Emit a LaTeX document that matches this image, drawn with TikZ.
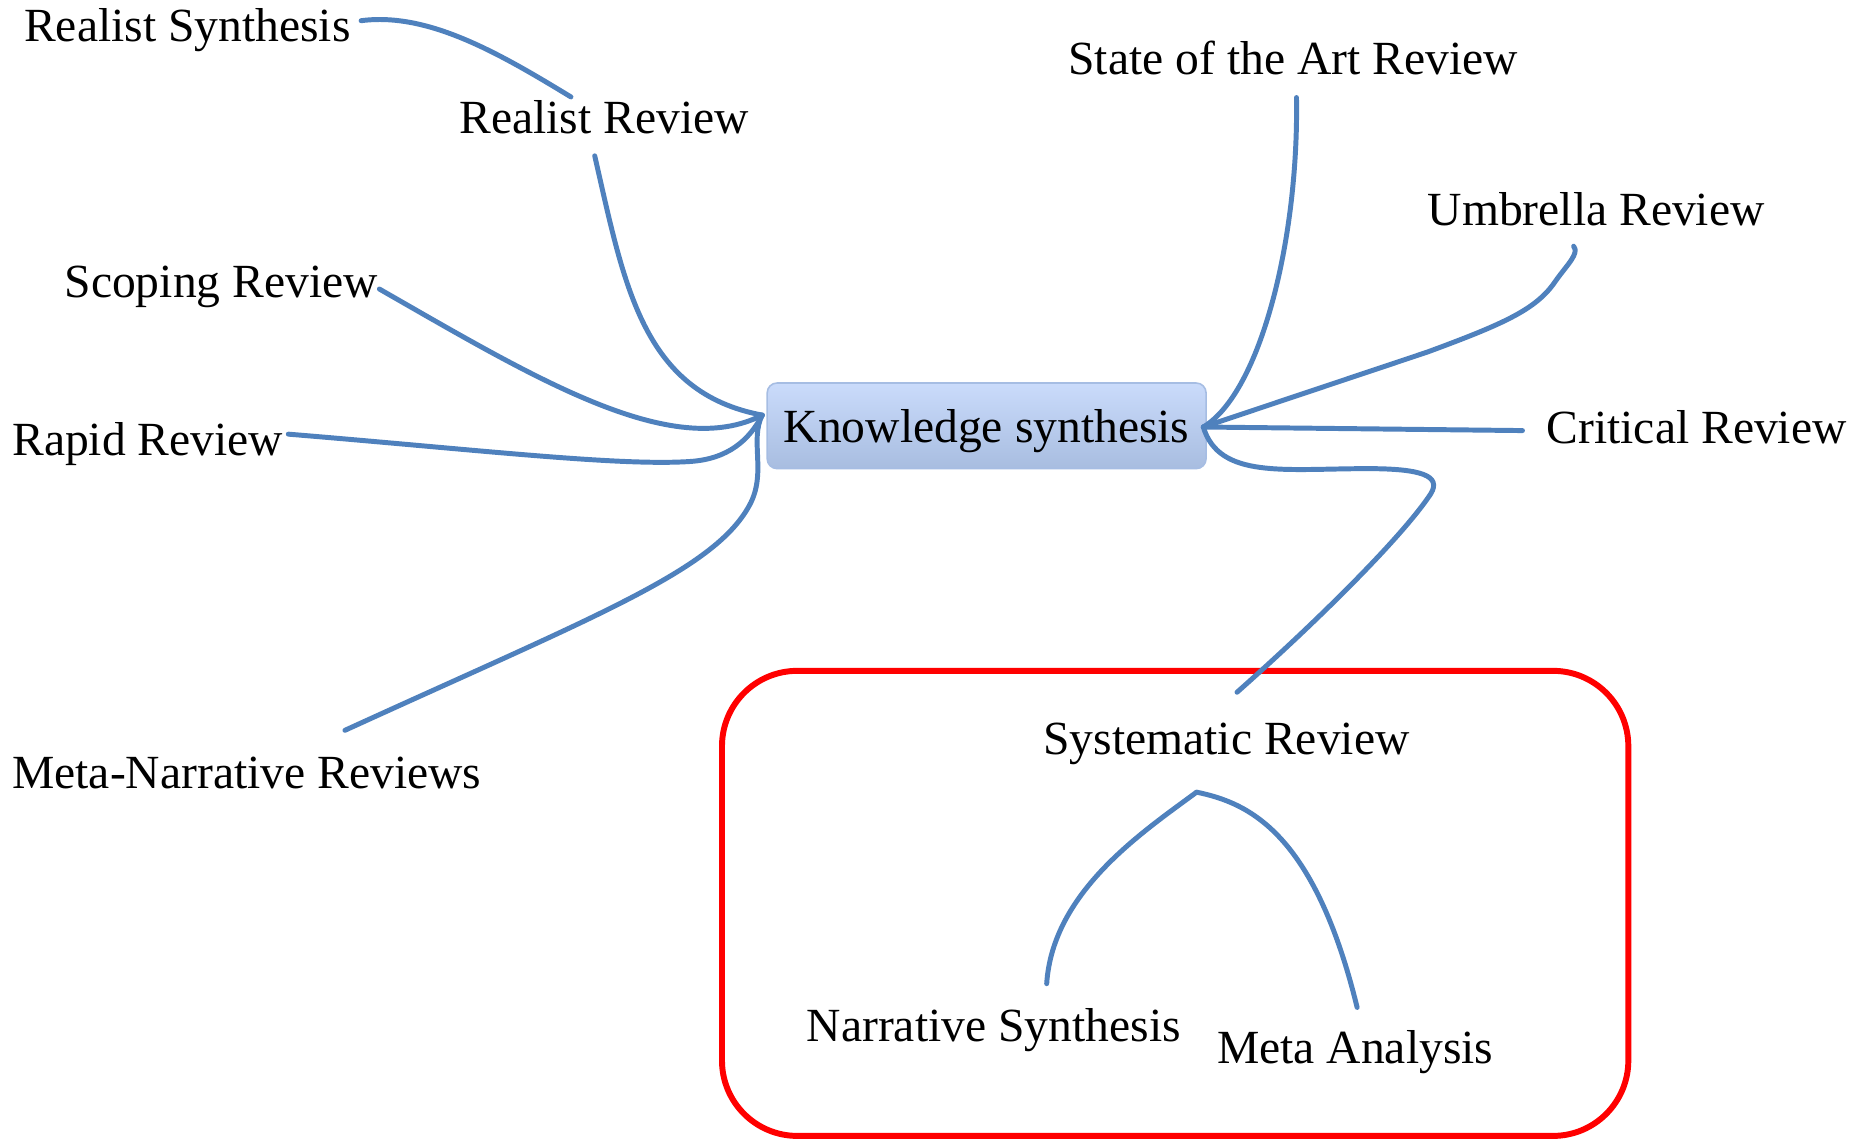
\documentclass[tikz,border=0pt]{standalone}
\usepackage{fontspec}
\setmainfont{Liberation Serif}
\usetikzlibrary{calc}
\definecolor{linkblue}{RGB}{79,129,189}
\definecolor{boxtop}{RGB}{202,219,251}
\definecolor{boxbottom}{RGB}{168,189,224}
\definecolor{boxline}{RGB}{166,189,227}
\begin{document}
\begin{tikzpicture}[x=0.6pt,y=-0.6pt,
  label/.style={inner sep=0pt,anchor=base west,font=\fontsize{24}{29}\selectfont},
  ksbox/.style={draw=boxline,line width=0.8pt,top color=boxtop,bottom color=boxbottom,
    rounded corners=5pt,minimum width=221.4pt,minimum height=43.2pt,inner sep=0pt,
    text depth=0pt,font=\fontsize{24}{29}\selectfont},
  link/.style={draw=linkblue,line width=2.5pt,line cap=round,line join=round},
  group/.style={draw=red,line width=3pt,rounded corners=38pt}]

\useasboundingbox[fill=white] (0,0) rectangle (1568,958);

% central topic
\node[ksbox] (ks) at (829.5,358) {Knowledge synthesis};
\coordinate (ksL) at ($(ks.west)+(-3.5,-9)$);
\coordinate (ksR) at ($(ks.east)+(-3,1)$);

% branch labels
\node[label] (rsyn)  at (20,35)    {Realist Synthesis};
\node[label] (rrev)  at (386,112)  {Realist Review};
\node[label] (soa)   at (898,63)   {State of the Art Review};
\node[label] (umb)   at (1200,190) {Umbrella Review};
\node[label] (scop)  at (54,250)   {Scoping Review};
\node[label] (rapid) at (10,383)   {Rapid Review};
\node[label] (crit)  at (1300,373) {Critical Review};
\node[label] (mnr)   at (10,663)   {Meta-Narrative Reviews};
\node[label] (sysr)  at (877,634)  {Systematic Review};
\node[label] (nars)  at (678,876)  {Narrative Synthesis};
\node[label] (meta)  at (1023,894) {Meta Analysis};

% frame around the systematic review group
\draw[group] (607,564) rectangle (1369,955);

% left-hand branches
\draw[link] ($(rsyn.base east)+(8.5,-17.6)$)
  .. controls (360,10) and (420,45) .. ($(rrev.base west)+(94,-30.5)$);
\draw[link] ($(rrev.base west)+(114,19)$)
  .. controls (525,240) and (540,330) .. (ksL);
\draw[link] ($(scop.base east)+(1,-7)$)
  .. controls (450,318) and (565,388) .. (ksL);
\draw[link] ($(rapid.base east)+(4,-18)$)
  .. controls (400,378) and (520,392) .. (580,388)
  .. controls (612,386) and (630,370) .. (ksL);
\draw[link] ($(mnr.base west)+(280,-49)$)
  .. controls (500,518) and (600,480) .. (630,425)
  .. controls (645,398) and (630,370) .. (ksL);

% right-hand branches
\draw[link] ($(soa.base west)+(192,19)$)
  .. controls (1092,200) and (1060,330) .. (ksR);
\draw[link] ($(umb.base west)+(123,17)$)
  .. controls (1328,213) and (1318,222) .. (1308,236)
  .. controls (1292,260) and (1265,272) .. (1200,296) -- (ksR);
\draw[link] ($(crit.base west)+(-20,-11)$) -- (ksR);
\draw[link] ($(sysr.base west)+(163,-52)$)
  .. controls (1110,520) and (1180,450) .. (1203,415)
  .. controls (1212,400) and (1195,394) .. (1150,394)
  .. controls (1080,394) and (1025,403) .. (ksR);

% systematic review sub-branches
\coordinate (sysfork) at ($(sysr.base west)+(129,32)$);
\draw[link] (sysfork) .. controls (960,700) and (885,750) .. ($(nars.base west)+(202,-49)$);
\draw[link] (sysfork) .. controls (1050,675) and (1105,700) .. ($(meta.base west)+(118,-47)$);

\end{tikzpicture}
\end{document}
